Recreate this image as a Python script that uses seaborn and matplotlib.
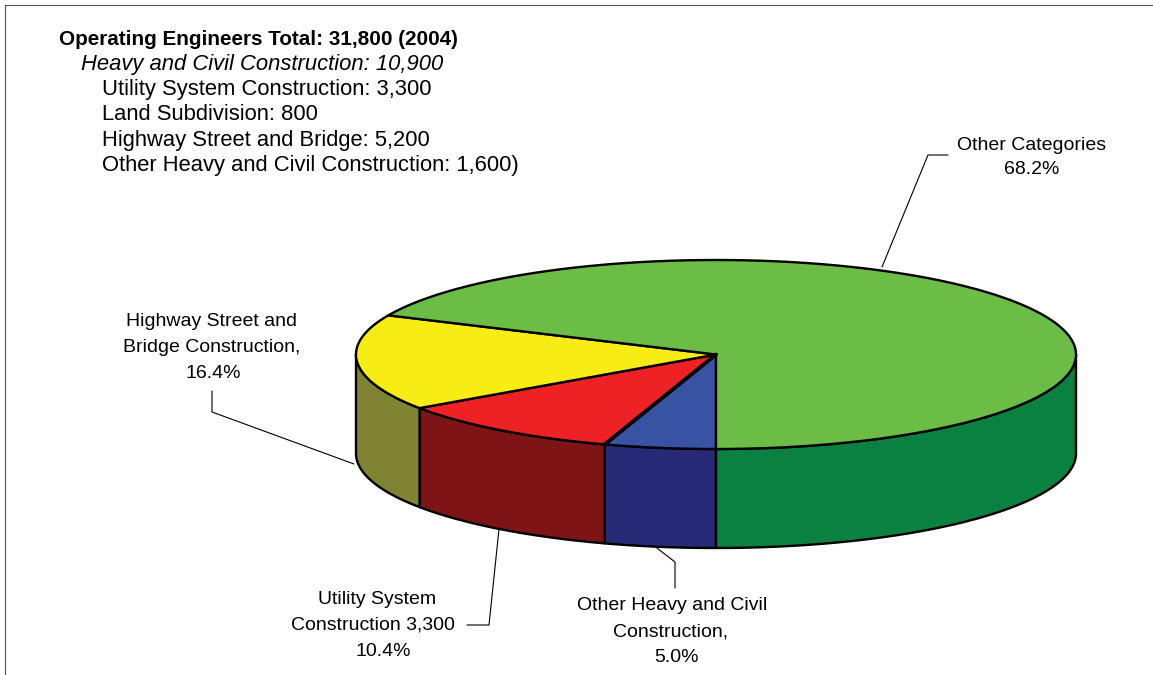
import numpy as np
import matplotlib
matplotlib.use("Agg")
import matplotlib.pyplot as plt
from matplotlib.patches import Polygon
import seaborn as sns

sns.set_theme(style="white")
plt.rcParams['font.family'] = ['Liberation Sans', 'DejaVu Sans']

categories = ["Other Heavy and Civil Construction", "Utility System Construction",
              "Highway Street and Bridge Construction", "Other Categories"]
shares = [5.0, 10.4, 16.4, 68.2]
top_colors = ["#3953A4", "#EE2224", "#F7EC13", "#6CBD45"]
side_colors = ["#272A76", "#7F1416", "#808432", "#0A8041"]

W, H = 1153, 675
fig = plt.figure(figsize=(W / 100, H / 100), dpi=100, facecolor="white")
ax = fig.add_axes([0, 0, 1, 1])
ax.set_xlim(0, W)
ax.set_ylim(H, 0)
ax.axis("off")

cx, cy, rx, ry, depth = 716, 354.5, 360, 94.5, 99


def rim(t0, t1, dy=0):
    t = np.radians(np.linspace(t0, t1, 240))
    return np.column_stack([cx - rx * np.sin(t), cy + dy + ry * np.cos(t)])


# Slices run clockwise from six o'clock
edges = np.concatenate([[0], np.cumsum(shares) / np.sum(shares) * 360])

# Side walls: only the front half of the ellipse (t from -90 to 90 degrees)
for i in range(len(shares)):
    spans = [(edges[i], edges[i + 1])]
    if edges[i + 1] > 270:
        spans = [(edges[i], 90) if edges[i] < 90 else None, (270, edges[i + 1])]
    for span in spans:
        if span is None:
            continue
        a, b = span
        if a >= 90 and b <= 270:
            continue
        if a < 90 and b > 90:
            b = 90
        upper = rim(a, b)
        lower = rim(a, b, depth)[::-1]
        ax.add_patch(Polygon(np.vstack([upper, lower]), closed=True, fc=side_colors[i],
                             ec="black", lw=1.7, joinstyle="round", zorder=2))

# Top faces
for i in range(len(shares)):
    pts = np.vstack([[[cx, cy]], rim(edges[i], edges[i + 1])])
    ax.add_patch(Polygon(pts, closed=True, fc=top_colors[i], ec="black", lw=1.7,
                         joinstyle="round", zorder=3))
# Heavier spoke between the blue and red slices
p = rim(edges[1], edges[1])[0]
ax.plot([cx, p[0]], [cy, p[1]], color="black", lw=2.8, zorder=4, solid_capstyle="round")

# Page frame
ax.plot([5, 5, W], [H, 5, 5], color="#555555", lw=0.8, zorder=1)

# Title block
head = [("Operating Engineers Total: 31,800 (2004)", 59, 45, 14.85, {"fontweight": "bold"}),
        ("Heavy and Civil Construction: 10,900", 81, 70, 15.8, {"fontstyle": "italic"}),
        ("Utility System Construction: 3,300", 102, 95, 15.8, {}),
        ("Land Subdivision: 800", 102, 120, 15.8, {}),
        ("Highway Street and Bridge: 5,200", 102, 146, 15.8, {}),
        ("Other Heavy and Civil Construction: 1,600)", 102, 171, 15.8, {})]
for s, x, y, size, kw in head:
    ax.text(x, y, s, fontsize=size, color="black", ha="left", va="baseline", **kw)

# Labels, line by line (the reference's lines are not quite centred on each other)
labels = [("Other Categories", 1032, 146), ("68.2%", 1032, 170),
          ("Highway Street and", 212, 321), ("Bridge Construction,", 212, 348), ("16.4%", 213, 374),
          ("Utility System", 377, 599), ("Construction 3,300", 373, 625), ("10.4%", 383, 652),
          ("Other Heavy and Civil", 672, 606), ("Construction,", 670, 632), ("5.0%", 676, 658)]
for s, x, y in labels:
    ax.text(x, y, s, fontsize=14.0, color="black", ha="center", va="center")

# Leader lines
leaders = [[(882, 267), (928, 155), (948, 155)],
           [(354, 464), (212, 412), (212, 391)],
           [(499, 529), (489, 625), (467, 625)],
           [(653, 545), (675, 562), (675, 588)]]
for pts in leaders:
    xs, ys = zip(*pts)
    ax.plot(xs, ys, color="black", lw=0.8, zorder=1)

fig.savefig("out.png", dpi=100)
